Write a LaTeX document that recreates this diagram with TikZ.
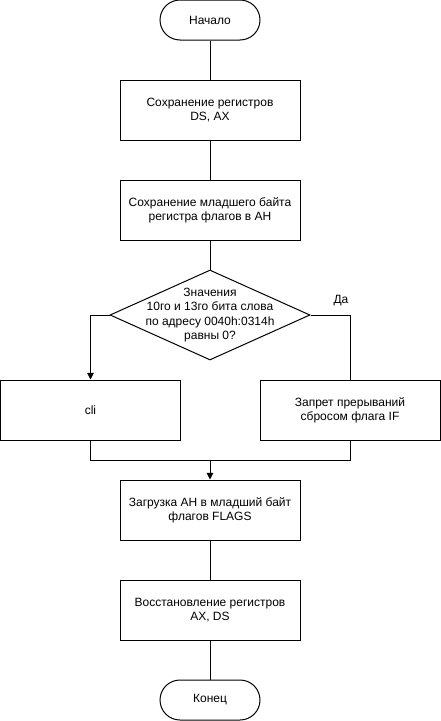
\documentclass[tikz,border=0pt]{standalone}
\usepackage{fontspec}
\setmainfont{Liberation Sans}
\usetikzlibrary{shapes.geometric,arrows.meta}
\tikzset{
  termbox/.style={draw, rounded corners=15pt, minimum width=75pt, minimum height=30pt, inner sep=0pt},
  procbox/.style={draw, minimum width=135pt, minimum height=45pt, inner sep=0pt, align=center},
  flow/.style={line width=0.75pt},
  arr/.style={flow, -{Triangle[length=5pt,width=5pt]}}
}
\begin{document}
\begin{tikzpicture}[x=0.75pt, y=-0.75pt, line width=0.75pt,
  font=\fontsize{9}{10.8}\selectfont]
\useasboundingbox (0,0) rectangle (441,721);
\node[termbox] (start) at (210,20) {Начало};
\node[procbox] (savereg) at (210,110) {Сохранение регистров\\DS, AX};
\node[procbox] (saveflags) at (210,210) {Сохранение младшего байта\\регистра флагов в AH};
\node[draw, diamond, minimum width=150pt, minimum height=67.5pt, inner sep=0pt] (check) at (210,315) {};
\node[align=center] at (check) {Значения\\10го и 13го бита слова\\по адресу 0040h:0314h\\равны 0?};
\node[procbox] (cli) at (90.5,410) {cli};
\node[procbox] (noint) at (350,410) {Запрет прерываний\\сбросом флага IF};
\node (yes) at (341,301) {Да};
\coordinate (join) at (210,460);
\node[procbox] (loadflags) at (210,510) {Загрузка AH в младший байт\\флагов FLAGS};
\node[procbox] (restreg) at (210,610) {Восстановление регистров\\AX, DS};
\node[termbox] (stop) at (210,700) {Конец};

\draw[flow] (start) -- (savereg);
\draw[flow] (savereg) -- (saveflags);
\draw[flow] (saveflags) -- (check);
\draw[arr] (check.west) -| (cli.north);
\draw[flow] (check.east) -| (noint.north);
\draw[flow] (cli.south) |- (join);
\draw[flow] (noint.south) |- (join);
\draw[arr] (join) -- (loadflags);
\draw[flow] (loadflags) -- (restreg);
\draw[flow] (restreg) -- (stop);
\end{tikzpicture}
\end{document}
